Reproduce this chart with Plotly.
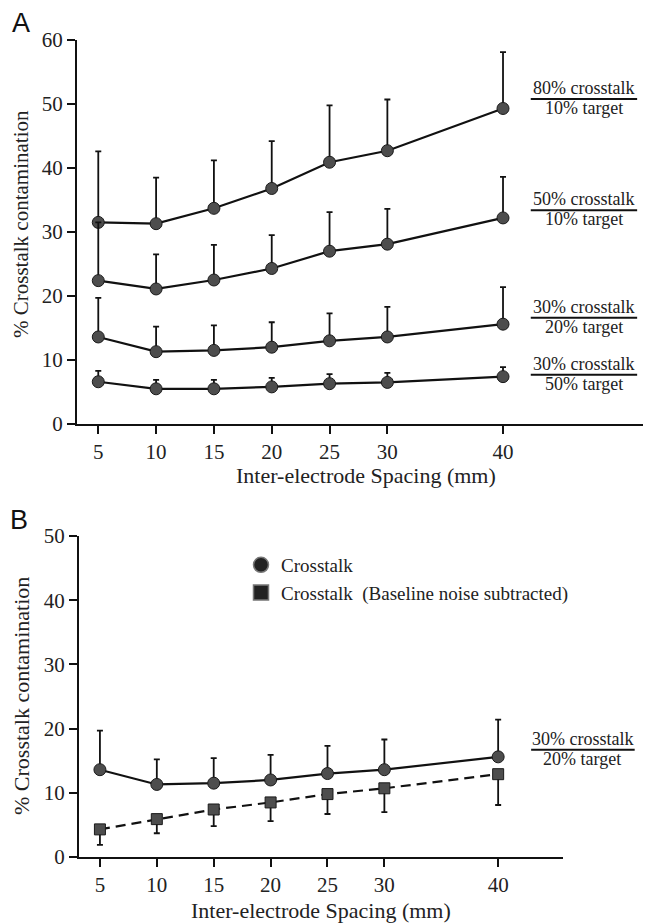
import plotly.graph_objects as go

# page offset (browser body margin) compensation
OFF = 8
W, H = 651 - OFF, 924 - OFF

spacing = [5, 10, 15, 20, 25, 30, 40]

# Panel A series (mean, upward SD)
a80_10 = [31.5, 31.3, 33.7, 36.8, 40.9, 42.7, 49.3]
a80_10_err = [11.1, 7.2, 7.5, 7.4, 8.9, 8.0, 8.8]
a50_10 = [22.4, 21.1, 22.5, 24.3, 27.0, 28.1, 32.2]
a50_10_err = [9.1, 5.4, 5.5, 5.2, 6.1, 5.5, 6.4]
a30_20 = [13.6, 11.3, 11.5, 12.0, 13.0, 13.6, 15.6]
a30_20_err = [6.1, 3.9, 3.9, 3.9, 4.3, 4.7, 5.8]
a30_50 = [6.6, 5.5, 5.5, 5.8, 6.3, 6.5, 7.4]
a30_50_err = [1.7, 1.4, 1.4, 1.4, 1.5, 1.5, 1.5]

# Panel B series
b_cross = [13.6, 11.3, 11.5, 12.0, 13.0, 13.6, 15.6]
b_cross_err = [6.1, 3.9, 3.9, 3.9, 4.3, 4.7, 5.8]
b_sub = [4.3, 5.9, 7.4, 8.5, 9.8, 10.7, 12.9]
b_sub_err = [2.4, 2.2, 2.6, 2.9, 3.1, 3.7, 4.8]

xticks = [5, 10, 15, 20, 25, 30, 40]
yticksA = [0, 10, 20, 30, 40, 50, 60]
yticksB = [0, 10, 20, 30, 40, 50]

labelsA = [("80% crosstalk", "10% target", 50.8),
           ("50% crosstalk", "10% target", 33.4),
           ("30% crosstalk", "20% target", 16.6),
           ("30% crosstalk", "50% target", 7.7)]
labelsB = [("30% crosstalk", "20% target", 16.7)]

SERIF = "Liberation Serif, Times New Roman, serif"
SANS = "Liberation Sans, Arial, sans-serif"


def xp(p):
    return (p - OFF) / W


def yp(p):
    return 1 - (p - OFF) / H


domA_x = [xp(77), 1.0]
domA_y = [yp(424), yp(40)]
domB_x = [xp(79), xp(563)]
domB_y = [yp(857), yp(536)]
xrA = [3.16, 53.5 - 8 / 11.4]
xrB = [3.16, 45.7]
yrA = [0, 60]
yrB = [0, 50]

MC = "#4d4d4d"
ML = "#1a1a1a"

fig = go.Figure()


def add_series(y, err, xa, ya, symbol="circle", dash="solid", down=False):
    if down:
        ey = dict(type="data", symmetric=False, array=[0] * len(err), arrayminus=err,
                  color="#111", thickness=1.8, width=3)
    else:
        ey = dict(type="data", symmetric=False, array=err, arrayminus=[0] * len(err),
                  color="#111", thickness=1.8, width=3)
    fig.add_trace(go.Scatter(
        x=spacing, y=y, xaxis=xa, yaxis=ya, mode="lines+markers",
        line=dict(color="#111", width=2.2, dash=dash),
        marker=dict(symbol=symbol, size=12 if symbol == "circle" else 11,
                    color=MC, line=dict(color=ML, width=1)),
        error_y=ey, showlegend=False, hoverinfo="skip"))


for ser, err in [(a80_10, a80_10_err), (a50_10, a50_10_err),
                 (a30_20, a30_20_err), (a30_50, a30_50_err)]:
    add_series(ser, err, "x", "y")

add_series(b_cross, b_cross_err, "x2", "y2")
add_series(b_sub, b_sub_err, "x2", "y2", symbol="square", dash="10px,6px", down=True)

# legend-only entries
fig.add_trace(go.Scatter(x=[None], y=[None], xaxis="x2", yaxis="y2", mode="markers",
                         name="Crosstalk",
                         marker=dict(symbol="circle", size=15, color="#222",
                                     line=dict(color="#777", width=1.5))))
fig.add_trace(go.Scatter(x=[None], y=[None], xaxis="x2", yaxis="y2", mode="markers",
                         name="Crosstalk\u00a0 (Baseline noise subtracted)",
                         marker=dict(symbol="square", size=15, color="#222",
                                     line=dict(color="#777", width=1.5))))

axis_common = dict(showline=True, linecolor="#111", linewidth=2, ticks="outside",
                   ticklen=8, tickwidth=2, tickcolor="#111", showgrid=False,
                   zeroline=False, automargin=False,
                   tickfont=dict(family=SERIF, size=21, color="#222"))

fig.update_layout(
    width=W, height=H, autosize=False,
    margin=dict(l=0, r=0, t=0, b=0, pad=0, autoexpand=False),
    paper_bgcolor="white", plot_bgcolor="white",
    xaxis=dict(domain=domA_x, range=xrA, tickvals=xticks, anchor="y", **axis_common),
    yaxis=dict(domain=domA_y, range=yrA, tickvals=yticksA, anchor="x", **axis_common),
    xaxis2=dict(domain=domB_x, range=xrB, tickvals=xticks, anchor="y2", **axis_common),
    yaxis2=dict(domain=domB_y, range=yrB, tickvals=yticksB, anchor="x2", **axis_common),
    legend=dict(x=xp(241), y=yp(546), xanchor="left", yanchor="top",
                font=dict(family=SERIF, size=19, color="#222"),
                bgcolor="rgba(0,0,0,0)", itemwidth=30, tracegroupgap=0),
    showlegend=True,
)


def to_paper(v, rng, dom):
    return dom[0] + (v - rng[0]) / (rng[1] - rng[0]) * (dom[1] - dom[0])


annotations = []
shapes = []


def txt(text, x, y, size, family=SERIF, color="#222", angle=0):
    annotations.append(dict(text=text, x=x, y=y, xref="paper", yref="paper",
                            xanchor="center", yanchor="middle", showarrow=False,
                            textangle=angle,
                            font=dict(family=family, size=size, color=color)))


# panel letters
txt("A", xp(21), yp(23), 27, family=SANS, color="#111")
txt("B", xp(19), yp(520), 27, family=SANS, color="#111")

# axis titles
txt("Inter-electrode Spacing (mm)", xp(366), yp(475), 22)
txt("Inter-electrode Spacing (mm)", xp(321), yp(910), 22)
txt("% Crosstalk contamination", xp(21), yp(224), 21, angle=-90)
txt("% Crosstalk contamination", xp(21), yp(696), 22, angle=-90)


def add_label(top, bottom, yv, xc, x0, x1, xr, dx, yr, dy):
    px = to_paper(xc, xr, dx)
    py = to_paper(yv, yr, dy)
    annotations.append(dict(text=top, x=px, y=py, xref="paper", yref="paper",
                            xanchor="center", yanchor="bottom", showarrow=False, yshift=-1,
                            font=dict(family=SERIF, size=18, color="#222")))
    annotations.append(dict(text=bottom, x=px, y=py, xref="paper", yref="paper",
                            xanchor="center", yanchor="top", showarrow=False, yshift=3,
                            font=dict(family=SERIF, size=18, color="#222")))
    shapes.append(dict(type="line", xref="paper", yref="paper",
                       x0=to_paper(x0, xr, dx), x1=to_paper(x1, xr, dx), y0=py, y1=py,
                       line=dict(color="#111", width=2)))


for t, b, yv in labelsA:
    add_label(t, b, yv, 47.0, 42.4, 51.6, xrA, domA_x, yrA, domA_y)
for t, b, yv in labelsB:
    add_label(t, b, yv, 47.4, 42.9, 52.0, xrB, domB_x, yrB, domB_y)

fig.update_layout(annotations=annotations, shapes=shapes)

fig.write_html("out.html")
